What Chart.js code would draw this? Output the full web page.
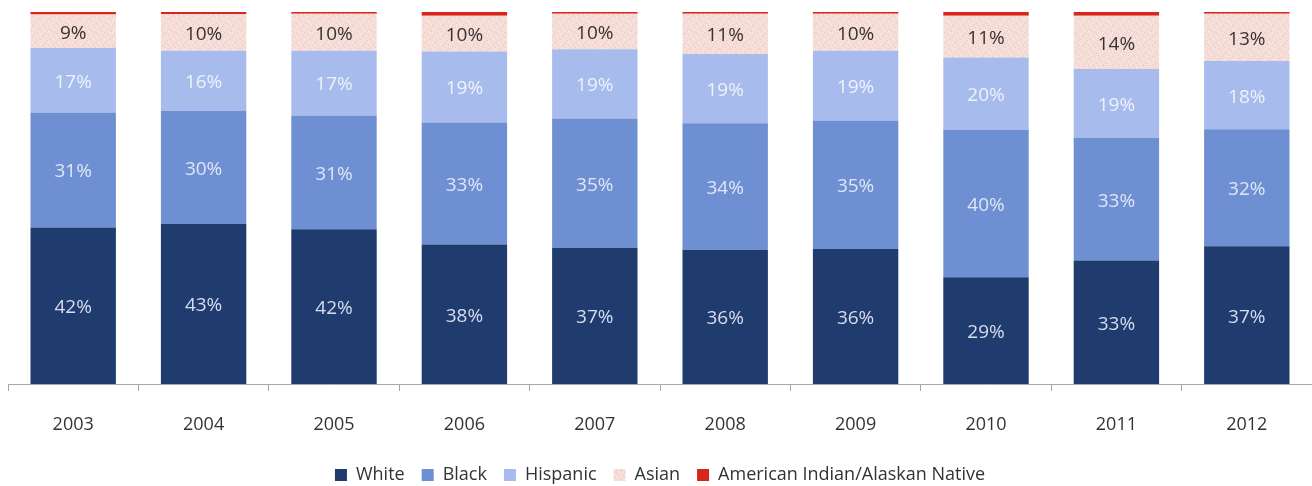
<!DOCTYPE html>
<html>
<head>
<meta charset="utf-8">
<script src="https://cdn.jsdelivr.net/npm/chart.js@4/dist/chart.umd.min.js"></script>
<style>
  html, body { margin: 0; padding: 0; background: #ffffff; }
  #wrap { width: 1312px; height: 486px; }
</style>
</head>
<body>
<div id="wrap"><canvas id="c" width="1312" height="486"></canvas></div>
<script>
const years = ['2003','2004','2005','2006','2007','2008','2009','2010','2011','2012'];
const white    = [42.1, 43.0, 41.6, 37.5, 36.6, 36.1, 36.3, 28.7, 33.2, 37.0];
const black    = [30.9, 30.4, 30.6, 32.8, 34.8, 34.0, 34.5, 39.6, 33.0, 31.5];
const hispanic = [17.3, 16.2, 17.4, 19.1, 18.6, 18.6, 18.8, 19.5, 18.5, 18.3];
const asian    = [9.0, 9.8, 9.9, 9.6, 9.5, 10.8, 9.9, 11.2, 14.3, 12.7];
const amIndian = [0.7, 0.6, 0.5, 1.0, 0.5, 0.5, 0.5, 1.0, 1.0, 0.5];
const seriesNames = ['White', 'Black', 'Hispanic', 'Asian', 'American Indian/Alaskan Native'];

// speckled pink texture for the Asian series
function makeAsianPattern() {
  const p = document.createElement('canvas');
  p.width = 10; p.height = 10;
  const g = p.getContext('2d');
  g.fillStyle = '#f5ddd8';
  g.fillRect(0, 0, 10, 10);
  g.fillStyle = '#ecc6c0';
  const dots = [[1,1],[4,2],[7,0],[8,5],[2,6],[5,7],[0,9],[9,8],[3,4],[6,3]];
  dots.forEach(d => g.fillRect(d[0], d[1], 1, 1));
  g.fillStyle = '#faeeea';
  [[2,2],[6,6],[8,1],[0,4],[4,9]].forEach(d => g.fillRect(d[0], d[1], 1, 1));
  return g.createPattern(p, 'repeat');
}
const asianPattern = makeAsianPattern();

const labelColors = ['#d6ddef', '#dfe6f6', '#eef2fc', '#3a3232'];

const valueLabels = {
  id: 'valueLabels',
  afterDatasetsDraw(chart) {
    const ctx = chart.ctx;
    ctx.save();
    ctx.font = '19px "Open Sans", sans-serif';
    ctx.textAlign = 'center';
    ctx.textBaseline = 'middle';
    for (let i = 0; i < 4; i++) {
      const meta = chart.getDatasetMeta(i);
      const vals = chart.data.datasets[i].data;
      ctx.fillStyle = labelColors[i];
      meta.data.forEach((bar, j) => {
        const p = bar.getProps(['x', 'y', 'base'], true);
        ctx.fillText(Math.round(vals[j]) + '%', p.x, (p.y + p.base) / 2 + 2);
      });
    }
    ctx.restore();
  }
};

const ds = (label, data, color) => ({
  label, data, backgroundColor: color, borderWidth: 0,
  barPercentage: 0.655, categoryPercentage: 1.0
});

new Chart(document.getElementById('c'), {
  type: 'bar',
  data: {
    labels: years,
    datasets: [
      ds(seriesNames[0], white, '#203b6e'),
      ds(seriesNames[1], black, '#6f8fd3'),
      ds(seriesNames[2], hispanic, '#a7bcec'),
      ds(seriesNames[3], asian, asianPattern),
      ds(seriesNames[4], amIndian, '#d8261c')
    ]
  },
  options: {
    responsive: false,
    animation: false,
    layout: { padding: { left: 8, right: 0, top: 12, bottom: -8 } },
    plugins: {
      tooltip: { enabled: false },
      legend: {
        position: 'bottom',
        labels: {
          boxWidth: 12, boxHeight: 12, padding: 17,
          color: '#333333',
          font: { size: 18, family: '"Open Sans", sans-serif' }
        }
      }
    },
    scales: {
      x: {
        stacked: true,
        afterFit(scale) { scale.height = 65; },
        border: { display: true, color: '#a8a8a8', width: 1 },
        grid: { display: true, offset: true, drawOnChartArea: false, drawTicks: true, tickLength: 7, color: '#a8a8a8' },
        ticks: { color: '#333333', padding: 23, font: { size: 18, family: '"Open Sans", sans-serif' } }
      },
      y: {
        stacked: true, display: false, min: 0, max: 100
      }
    }
  },
  plugins: [valueLabels]
});
</script>
</body>
</html>
